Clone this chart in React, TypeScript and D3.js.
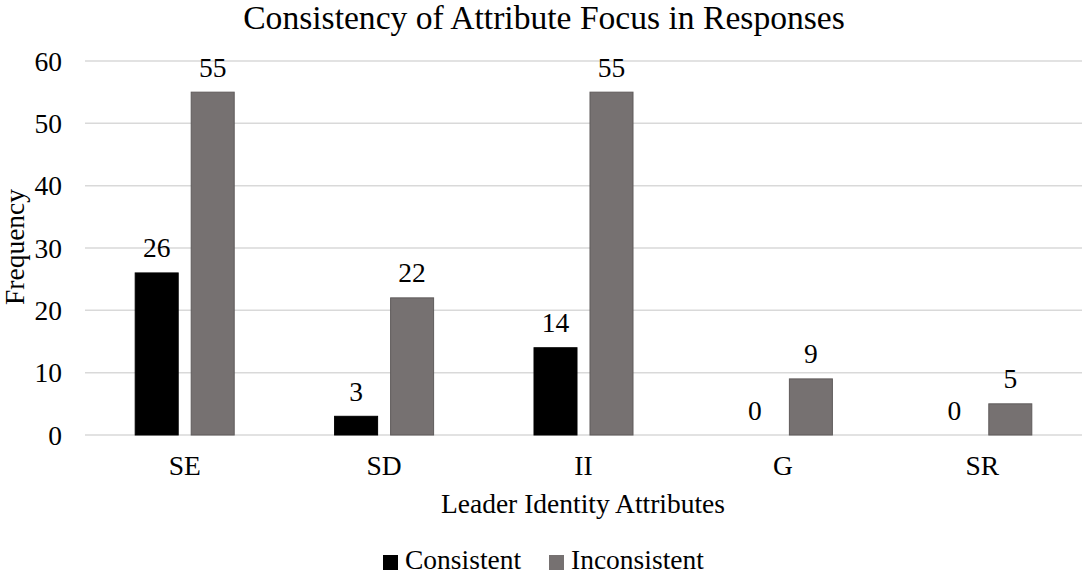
import React from "react";
import * as d3 from "d3";

const categories = ["SE", "SD", "II", "G", "SR"];
const seriesNames = ["Consistent", "Inconsistent"];
const consistent = [26, 3, 14, 0, 0];
const inconsistent = [55, 22, 55, 9, 5];
const yTicks = [0, 10, 20, 30, 40, 50, 60];
const colors = ["#000000", "#767171"];
const strokes = ["#000000", "#5f5b5b"];

const W = 1084;
const H = 575;
const FONT = "Liberation Serif";
const FS = 27.5;

export default function App() {
  const x0 = d3.scaleBand<string>().domain(categories).range([85, 1082]).padding(0);
  const x1 = d3.scaleBand<string>().domain(seriesNames).range([-49.5, 49.5]).paddingInner(0.232).paddingOuter(0);
  const y = d3.scaleLinear().domain([0, 60]).range([435, 61]);
  const values = [consistent, inconsistent];
  const ts = { fontFamily: FONT };

  return (
    <svg width={W} height={H} style={{ position: "absolute", left: 0, top: 0, background: "#fff", fontFamily: FONT }}>
      <rect x={0} y={0} width={W} height={H} fill="#fff" />
      <text x={544} y={28.5} textAnchor="middle" fontSize={33.6} fill="#000" style={ts}>
        Consistency of Attribute Focus in Responses
      </text>
      {yTicks.map((t) => (
        <g key={t}>
          <line x1={85} x2={1082} y1={y(t)} y2={y(t)} stroke="#d9d9d9" strokeWidth={1.5} />
          <text x={62} y={y(t)} dy="0.35em" textAnchor="end" fontSize={FS} fill="#000" style={ts}>
            {t}
          </text>
        </g>
      ))}
      <text transform={`translate(24,247) rotate(-90)`} textAnchor="middle" fontSize={FS} fill="#000" style={ts}>
        Frequency
      </text>
      {categories.map((c, i) => {
        const cx = (x0(c) as number) + x0.bandwidth() / 2;
        return (
          <g key={c}>
            {seriesNames.map((s, k) => {
              const v = values[k][i];
              const bx = cx + (x1(s) as number);
              const bw = x1.bandwidth();
              return (
                <g key={s}>
                  {v > 0 && (
                    <rect x={bx} y={y(v)} width={bw} height={y(0) - y(v)} fill={colors[k]} stroke={strokes[k]} strokeWidth={1} />
                  )}
                  <text x={bx + bw / 2} y={y(v) - 15.5} textAnchor="middle" fontSize={FS} fill="#000" style={ts}>
                    {v}
                  </text>
                </g>
              );
            })}
            <text x={cx} y={475} textAnchor="middle" fontSize={FS} fill="#000" style={ts}>
              {c}
            </text>
          </g>
        );
      })}
      <text x={583} y={513} textAnchor="middle" fontSize={FS} fill="#000" style={ts}>
        Leader Identity Attributes
      </text>
      {seriesNames.map((s, k) => {
        const lx = [383, 549][k];
        return (
          <g key={s}>
            <rect x={lx} y={555} width={15} height={15} fill={colors[k]} />
            <text x={lx + 22} y={569} fontSize={FS} fill="#000" style={ts}>
              {s}
            </text>
          </g>
        );
      })}
    </svg>
  );
}
